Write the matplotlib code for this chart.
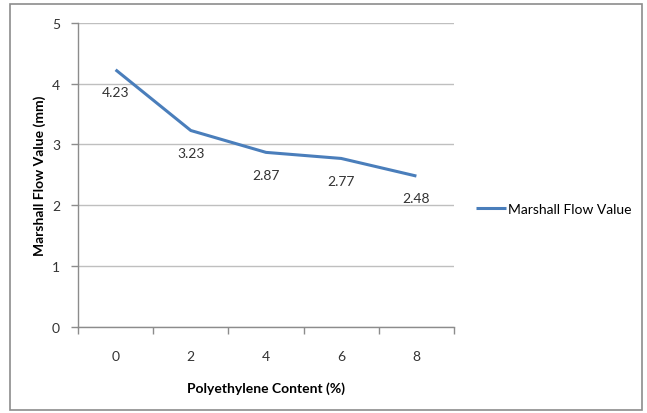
import matplotlib
matplotlib.use("Agg")
import matplotlib.pyplot as plt
from matplotlib.patches import Rectangle

# data
content = ["0", "2", "4", "6", "8"]
flow_value = [4.23, 3.23, 2.87, 2.77, 2.48]
series_name = "Marshall Flow Value"

plt.rcParams['font.family'] = ['Lato', 'DejaVu Sans']

W, H = 647, 414
fig = plt.figure(figsize=(W / 100, H / 100), dpi=100)

# outer chart border
fig.patches.append(Rectangle((10 / W, 3 / H), 632 / W, 406 / H, transform=fig.transFigure,
                             fill=False, edgecolor='#8c8c8c', linewidth=1.2))

ax = fig.add_axes([78 / W, 86.3 / H, 376 / W, 303.7 / H])

x = list(range(len(content)))
line, = ax.plot(x, flow_value, color='#4a7ebb', linewidth=2.2, label=series_name,
                solid_capstyle='butt')

for xi, v in zip(x, flow_value):
    ax.annotate(f"{v:.2f}", (xi, v), xytext=(0, -16), textcoords='offset points',
                ha='center', va='center', fontsize=10, color='#333333')

ax.set_xlim(-0.5, len(content) - 0.5)
ax.set_ylim(0, 5)
ax.set_yticks([0, 1, 2, 3, 4, 5])
ax.set_xticks(x)
ax.set_xticklabels(content)
ax.set_xticks([i - 0.5 for i in range(len(content) + 1)], minor=True)
ax.tick_params(axis='x', which='major', length=0, pad=17, labelsize=10, labelcolor='#333333')
ax.tick_params(axis='x', which='minor', length=5, width=1, color='#8c8c8c', direction='out')
ax.tick_params(axis='y', length=5, width=1, color='#8c8c8c', pad=8, labelsize=10,
               labelcolor='#333333')

ax.grid(axis='y', color='#bfbfbf', linewidth=1)
ax.set_axisbelow(True)
for side in ['top', 'right']:
    ax.spines[side].set_visible(False)
for side in ['left', 'bottom']:
    ax.spines[side].set_color('#8c8c8c')
    ax.spines[side].set_linewidth(1)

ax.set_xlabel("Polyethylene Content (%)", fontsize=10, fontweight='bold', labelpad=14)
ax.set_ylabel("Marshall Flow Value (mm)", fontsize=10, fontweight='bold', labelpad=4)

fig.legend(handles=[line], loc='center left', bbox_to_anchor=(470 / W, 1 - 210 / H),
           frameon=False, fontsize=10, handlelength=2.2, handletextpad=0.1,
           borderaxespad=0)

fig.savefig("out.png", dpi=100)
